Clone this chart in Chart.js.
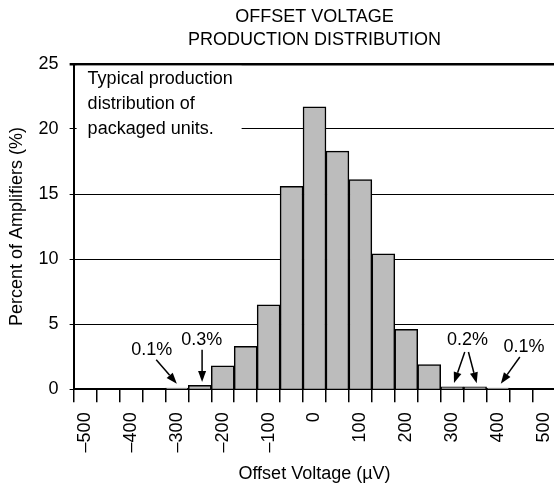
<!DOCTYPE html>
<html>
<head>
<meta charset="utf-8">
<script src="https://cdn.jsdelivr.net/npm/chart.js@4/dist/chart.umd.min.js"></script>
<style>
html,body{margin:0;padding:0;overflow:hidden;background:#fff;width:554px;height:487px}
canvas{display:block}
</style>
</head>
<body>
<canvas id="c" width="576" height="487"></canvas>
<script>
// ---- data ----
const binCenters = [-500,-450,-400,-350,-300,-250,-200,-150,-100,-50,0,50,100,150,200,250,300,350,400,450,500];
const percentAmplifiers = [null,null,null,null,0.1,0.3,1.8,3.3,6.5,15.6,21.7,18.3,16.1,10.4,4.6,1.9,0.2,0.2,0.1,null,null];
const tickValues = [-500,-400,-300,-200,-100,0,100,200,300,400,500];
const tickLabels = ['–500','–400','–300','–200','–100','0','100','200','300','400','500'];
const yTicks = [0,5,10,15,20,25];
const calloutLabels = ['0.1%','0.3%','0.2%','0.1%'];
const noteLines = ['Typical production','distribution of','packaged units.'];

const FONT = "'Liberation Sans', Arial, Helvetica, sans-serif";
Chart.defaults.font.family = FONT;
Chart.defaults.font.size = 18;
Chart.defaults.color = '#000';

// callout placement (category index / value space)
const callouts = [
  {label:0, text:[2.91, 2.62], arrows:[[[3.10,2.28],[4.0,0.44]]]},
  {label:1, text:[5.09, 3.38], arrows:[[[5.1,3.05],[5.1,0.56]]]},
  {label:2, text:[16.67,3.38], arrows:[[[16.55,2.87],[16.08,0.48]],[[16.71,2.87],[17.07,0.46]]]},
  {label:3, text:[19.13,2.85], arrows:[[[18.95,2.48],[18.12,0.44]]]}
];

function drawArrow(ctx, x1, y1, x2, y2){
  const ang = Math.atan2(y2-y1, x2-x1);
  const hl = 11, hw = 4;
  const bx = x2 - hl*Math.cos(ang), by = y2 - hl*Math.sin(ang);
  ctx.beginPath(); ctx.moveTo(x1,y1); ctx.lineTo(bx,by); ctx.stroke();
  ctx.beginPath();
  ctx.moveTo(x2,y2);
  ctx.lineTo(bx + hw*Math.sin(ang), by - hw*Math.cos(ang));
  ctx.lineTo(bx - hw*Math.sin(ang), by + hw*Math.cos(ang));
  ctx.closePath(); ctx.fill();
}

const notesPlugin = {
  id:'notes',
  beforeDatasetsDraw(chart){
    const {ctx, chartArea:a, scales:{y}} = chart;
    const y20 = y.getPixelForValue(20);
    ctx.save();
    ctx.fillStyle = '#fff';
    ctx.fillRect(a.left+3, a.top+2, 165, y20 + 12 - a.top);
    ctx.fillStyle = '#000';
    ctx.font = '18px ' + FONT;
    ctx.textAlign = 'left';
    ctx.textBaseline = 'alphabetic';
    noteLines.forEach((t,i)=>{
      ctx.fillText(t, a.left + 14, y20 + 5 - (noteLines.length-1-i)*25);
    });
    ctx.restore();
  },
  afterDatasetsDraw(chart){
    const {ctx, scales:{x,y}} = chart;
    ctx.save();
    ctx.fillStyle = '#000'; ctx.strokeStyle = '#000'; ctx.lineWidth = 1.5;
    ctx.font = '18px ' + FONT;
    ctx.textAlign = 'center';
    ctx.textBaseline = 'alphabetic';
    callouts.forEach(c=>{
      ctx.fillText(calloutLabels[c.label], x.getPixelForValue(c.text[0]), y.getPixelForValue(c.text[1]));
      c.arrows.forEach(ar=>{
        drawArrow(ctx, x.getPixelForValue(ar[0][0]), y.getPixelForValue(ar[0][1]),
                       x.getPixelForValue(ar[1][0]), y.getPixelForValue(ar[1][1]));
      });
    });
    ctx.restore();
  }
};

new Chart(document.getElementById('c'), {
  type:'bar',
  data:{
    labels: binCenters.map(String),
    datasets:[{
      data: percentAmplifiers,
      backgroundColor:'#bcbcbc',
      borderColor:'#000',
      borderWidth:1.5,
      barPercentage:1,
      categoryPercentage:1
    }]
  },
  options:{
    responsive:false,
    animation:false,
    devicePixelRatio:1,
    layout:{padding:0},
    plugins:{
      legend:{display:false},
      tooltip:{enabled:false},
      title:{
        display:true,
        fullSize:false,
        text:['OFFSET VOLTAGE','PRODUCTION DISTRIBUTION'],
        color:'#000',
        font:{size:18, weight:'normal', lineHeight:1.3},
        padding:{top:5, bottom:12}
      }
    },
    scales:{
      x:{
        offset:true,
        grid:{offset:true, drawOnChartArea:false, drawTicks:true, tickLength:13, color:'#000', lineWidth:1.5},
        border:{display:true, color:'#000', width:2},
        ticks:{
          autoSkip:false, maxRotation:90, minRotation:90, padding:10,
          callback:(v,i)=>{ const k = tickValues.indexOf(binCenters[i]); return k>=0 ? tickLabels[k] : ''; }
        },
        title:{display:true, text:'Offset Voltage (µV)', padding:{top:1, bottom:2}}
      },
      y:{
        min:yTicks[0], max:yTicks[yTicks.length-1],
        afterBuildTicks:(s)=>{ s.ticks = yTicks.map(v=>({value:v})); },
        ticks:{padding:11},
        grid:{color:'#000', lineWidth:(c)=> c.tick && c.tick.value===25 ? 2.5 : 1, tickLength:4},
        border:{color:'#000', width:2},
        title:{display:true, text:'Percent of Amplifiers (%)', padding:{top:6, bottom:0}}
      }
    }
  },
  plugins:[notesPlugin]
});
</script>
</body>
</html>
